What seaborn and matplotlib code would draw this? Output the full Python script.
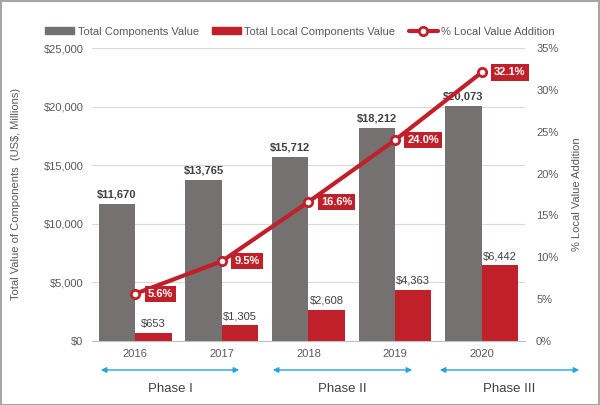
import pandas as pd
import matplotlib.pyplot as plt
import seaborn as sns
from matplotlib.patches import Rectangle, FancyArrowPatch

# data
years = ['2016', '2017', '2018', '2019', '2020']
total_value = [11670, 13765, 15712, 18212, 20073]
local_value = [653, 1305, 2608, 4363, 6442]
local_pct = [5.6, 9.5, 16.6, 24.0, 32.1]
phases = ['Phase I', 'Phase II', 'Phase III']

gray = '#757171'
red = '#C0202A'
txt = '#595959'

df = pd.DataFrame({
    'Year': years * 2,
    'Value': total_value + local_value,
    'Series': ['Total Components Value'] * 5 + ['Total Local Components Value'] * 5,
})
pct_df = pd.DataFrame({'Year': years, 'Pct': local_pct})

sns.set_style('white')
plt.rcParams['font.family'] = ['Liberation Sans', 'DejaVu Sans']

fig = plt.figure(figsize=(6, 4.05), dpi=100)
ax = fig.add_axes([0.153, 0.159, 0.722, 0.722])

sns.barplot(data=df, x='Year', y='Value', hue='Series', palette=[gray, red],
            width=0.84, gap=0, saturation=1, linewidth=0, ax=ax, legend=False)
ax.set_ylim(0, 25000)
ax.set_yticks(range(0, 25001, 5000))
ax.set_yticklabels(['${:,}'.format(v) for v in range(0, 25001, 5000)])
ax.yaxis.grid(True, color='#D9D9D9', lw=0.8)
ax.set_axisbelow(True)
for s in ['top', 'right', 'left']:
    ax.spines[s].set_visible(False)
ax.spines['bottom'].set_color('#BFBFBF')
ax.tick_params(axis='both', length=0, labelsize=8, colors=txt, pad=6)
ax.set_xlabel('')
ax.set_ylabel('Total Value of Components  (US$, Millions)', fontsize=8, color=txt, labelpad=16)

# bar labels
ax.bar_label(ax.containers[0], labels=['${:,}'.format(v) for v in total_value],
             fontsize=8, fontweight='bold', color='#404040', padding=3)
ax.bar_label(ax.containers[1], labels=['${:,}'.format(v) for v in local_value],
             fontsize=8, color='#404040', padding=3)

ax2 = ax.twinx()
sns.lineplot(data=pct_df, x='Year', y='Pct', color=red, lw=3, marker='o', ms=6,
             mfc='white', mec=red, mew=2, ax=ax2, sort=False)
ax2.set_ylim(0, 35)
ax2.set_yticks(range(0, 36, 5))
ax2.set_yticklabels(['{}%'.format(v) for v in range(0, 36, 5)])
for s in ax2.spines.values():
    s.set_visible(False)
ax2.tick_params(axis='y', length=0, labelsize=8, colors=txt, pad=8)
ax2.set_ylabel('% Local Value Addition', fontsize=8, color=txt, labelpad=10)
ax2.set_xlabel('')
ax.set_xlim(-0.5, len(years) - 0.5)

for i, p in enumerate(local_pct):
    ax2.annotate('{:.1f}%'.format(p), (i, p), xytext=(9, 0), textcoords='offset points',
                 ha='left', va='center', fontsize=8, fontweight='bold', color='white',
                 bbox=dict(boxstyle='square,pad=0.28', fc=red, ec='none'))

# legend
handles = [Rectangle((0, 0), 1, 1, color=gray), Rectangle((0, 0), 1, 1, color=red),
           plt.Line2D([], [], color=red, lw=3, marker='o', ms=6, mfc='white', mec=red, mew=2)]
fig.legend(handles, ['Total Components Value', 'Total Local Components Value',
                     '% Local Value Addition'],
           loc='center', bbox_to_anchor=(0.5, 0.922), ncol=3, frameon=False,
           fontsize=8, labelcolor=txt, handlelength=2.6, handleheight=0.5,
           columnspacing=1.2, handletextpad=0.3)

# phase arrows
arrow_x = [(98, 242), (270, 415), (437, 582)]
for (x0, x1), name in zip(arrow_x, phases):
    fig.patches.append(FancyArrowPatch(
        (x0 / 600, 1 - 370 / 405), (x1 / 600, 1 - 370 / 405), transform=fig.transFigure,
        arrowstyle='<|-|>', mutation_scale=8, color='#29A3DD', lw=1))
    fig.text((x0 + x1) / 2 / 600, 1 - 389 / 405, name, ha='center', va='center',
             fontsize=9.5, color='#404040')

fig.patches.append(Rectangle((0.001, 0.001), 0.997, 0.997, transform=fig.transFigure,
                             fill=False, ec='#A6A6A6', lw=1.5))

fig.savefig('out.png', dpi=100)
